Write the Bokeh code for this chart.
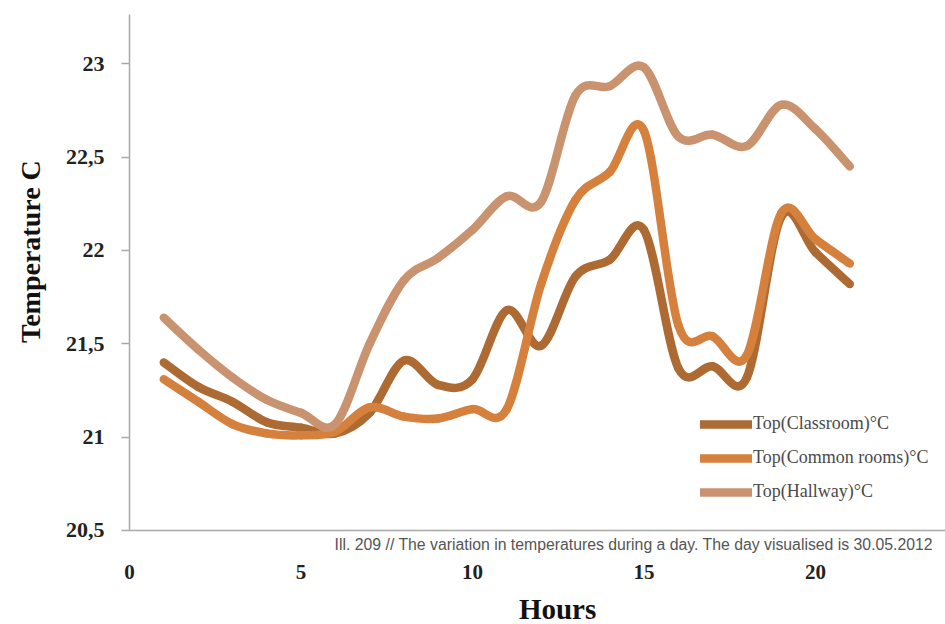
from bokeh.plotting import figure
from bokeh.models import Range1d, FixedTicker, Label, Legend, LegendItem, ColumnDataSource, LinearAxis
from bokeh.embed import file_html
from bokeh.resources import INLINE

# ---- data ----
hours = list(range(1, 22))
classroom = [21.40, 21.27, 21.19, 21.08, 21.05, 21.02, 21.13, 21.41, 21.28, 21.31, 21.68,
             21.49, 21.86, 21.95, 22.11, 21.37, 21.38, 21.32, 22.18, 21.99, 21.82]
common = [21.31, 21.19, 21.07, 21.02, 21.01, 21.03, 21.16, 21.11, 21.10, 21.15, 21.15,
          21.82, 22.27, 22.42, 22.64, 21.60, 21.54, 21.44, 22.20, 22.06, 21.93]
hallway = [21.64, 21.47, 21.32, 21.20, 21.13, 21.07, 21.50, 21.84, 21.96, 22.11, 22.29,
           22.26, 22.83, 22.88, 22.98, 22.61, 22.62, 22.56, 22.78, 22.65, 22.45]
series_names = ["Top(Classroom)°C", "Top(Common rooms)°C", "Top(Hallway)°C"]
series_colors = ["#AD6A33", "#D5803D", "#C9936F"]
x_ticks = [0, 5, 10, 15, 20]
y_ticks = [20.5, 21, 21.5, 22, 22.5, 23]
y_tick_labels = ["20,5", "21", "21,5", "22", "22,5", "23"]
caption = "Ill. 209 // The variation in temperatures during a day. The day visualised is 30.05.2012"

SERIF = "Liberation Serif"


def smooth_source(xs, ys):
    """Catmull-Rom style Bezier segments through the data points (like Excel's smoothed line)."""
    n = len(xs)
    d = dict(x0=[], y0=[], x1=[], y1=[], cx0=[], cy0=[], cx1=[], cy1=[])
    for i in range(n - 1):
        im, ip = max(i - 1, 0), min(i + 2, n - 1)
        d["x0"].append(xs[i]); d["y0"].append(ys[i])
        d["x1"].append(xs[i + 1]); d["y1"].append(ys[i + 1])
        d["cx0"].append(xs[i] + (xs[i + 1] - xs[im]) / 6.0)
        d["cy0"].append(ys[i] + (ys[i + 1] - ys[im]) / 6.0)
        d["cx1"].append(xs[i + 1] - (xs[ip] - xs[i]) / 6.0)
        d["cy1"].append(ys[i + 1] - (ys[ip] - ys[i]) / 6.0)
    return ColumnDataSource(d)


# frame covers the whole canvas; axes are pinned at fixed data locations
p = figure(width=945, height=624, output_backend="svg", toolbar_location=None,
           x_range=Range1d(-3.761, 23.79), y_range=Range1d(19.9965, 23.3388),
           x_axis_location=None, y_axis_location=None,
           min_border_left=0, min_border_right=0, min_border_top=0, min_border_bottom=0)
p.outline_line_color = None
p.xgrid.visible = False
p.ygrid.visible = False
p.background_fill_color = "white"
p.border_fill_color = "white"

items = []
for name, col, ys in zip(series_names, series_colors, [classroom, common, hallway]):
    r = p.bezier(x0="x0", y0="y0", x1="x1", y1="y1", cx0="cx0", cy0="cy0", cx1="cx1", cy1="cy1",
                 source=smooth_source(hours, ys), line_color=col, line_width=8.5, line_cap="round")
    items.append(LegendItem(label=name, renderers=[r]))

legend = Legend(items=items, location=(700, 122), padding=0, margin=0, spacing=13,
                glyph_width=52, glyph_height=20, label_standoff=1,
                label_text_font=SERIF, label_text_font_size="18px", label_text_color="#4a4a4a",
                border_line_color=None, background_fill_alpha=0)
p.add_layout(legend, "center")

# x axis
xa = LinearAxis(fixed_location=20.5, bounds=(0, 23.79), ticker=FixedTicker(ticks=x_ticks))
xa.axis_line_color = "#a8a8a8"
xa.axis_line_width = 1.5
xa.major_tick_line_color = None
xa.minor_tick_line_color = None
xa.major_label_standoff = 29
xa.major_label_text_font = SERIF
xa.major_label_text_font_size = "21px"
xa.major_label_text_font_style = "bold"
xa.major_label_text_color = "#222222"
p.add_layout(xa, "below")

# y axis
ya = LinearAxis(fixed_location=0, bounds=(20.5, 23.264), ticker=FixedTicker(ticks=y_ticks))
ya.major_label_overrides = {t: l for t, l in zip(y_ticks, y_tick_labels)}
ya.axis_line_color = "#a8a8a8"
ya.axis_line_width = 1.5
ya.major_tick_line_color = "#a8a8a8"
ya.major_tick_line_width = 1.5
ya.major_tick_out = 8
ya.major_tick_in = 0
ya.minor_tick_line_color = None
ya.major_label_standoff = 17
ya.major_label_text_font = SERIF
ya.major_label_text_font_size = "22px"
ya.major_label_text_font_style = "bold"
ya.major_label_text_color = "#222222"
p.add_layout(ya, "left")

# axis titles and caption
p.add_layout(Label(x=-2.886, y=21.994, text="Temperature C",
                   angle=1.5708, text_align="center", text_baseline="middle",
                   text_font=SERIF, text_font_style="bold", text_font_size="28px",
                   text_color="#111111"))
p.add_layout(Label(x=12.48, y=20.082, text="Hours",
                   text_align="center", text_baseline="middle",
                   text_font=SERIF, text_font_style="bold", text_font_size="29px",
                   text_color="#111111"))
p.add_layout(Label(x=5.98, y=20.425, text=caption,
                   text_align="left", text_baseline="middle",
                   text_font="Liberation Sans", text_font_size="15.8px",
                   text_color="#555555"))

open("out.html", "w").write(file_html(p, INLINE))
